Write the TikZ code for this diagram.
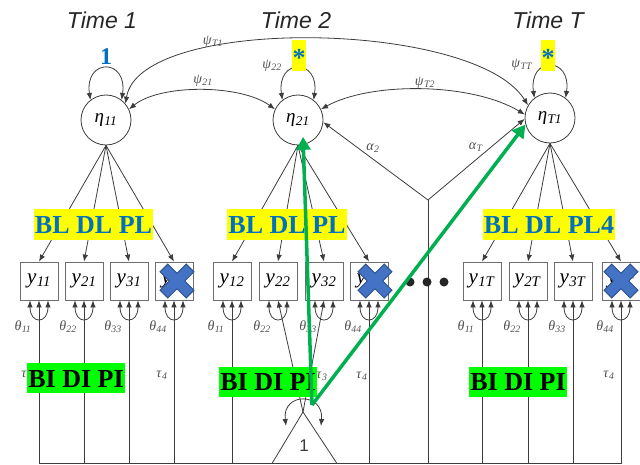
\documentclass[tikz,border=0pt]{standalone}
\usepackage{fontspec}
\setmainfont{Liberation Serif}
\newfontfamily\sansf{Liberation Sans}
\usetikzlibrary{arrows.meta,calc}
\definecolor{ln}{HTML}{3C3C3C}
\definecolor{boxln}{HTML}{6E6E6E}
\definecolor{hlblue}{HTML}{0070C0}
\definecolor{hlyellow}{HTML}{FFFF00}
\definecolor{hlgreen}{HTML}{00FF00}
\definecolor{arrgreen}{HTML}{00B050}
\definecolor{xfill}{HTML}{4472C4}
\definecolor{xedge}{HTML}{2F528F}
% italic symbol with an italic subscript
\newcommand\symsub[2]{\textit{#1}\kern0.3pt\textsubscript{\textit{#2}}}
\begin{document}
\begin{tikzpicture}[x=1pt,y=-1pt,line width=0.8pt,
  >={Latex[length=7pt,width=5.5pt]},
  latent/.style={circle,draw=ln,minimum size=50pt,inner sep=0pt,
    font=\fontsize{19}{19}\selectfont},
  manifest/.style={rectangle,draw=boxln,minimum size=38pt,inner sep=0pt,
    font=\fontsize{21}{21}\selectfont},
  timetitle/.style={font=\sansf\itshape\fontsize{23}{23}\selectfont,text=black!85},
  parlabel/.style={font=\fontsize{14}{14}\selectfont,text=ln!90,inner sep=0pt},
  loadtag/.style={fill=hlyellow,text=hlblue,font=\bfseries\fontsize{26}{26}\selectfont,
    inner xsep=1pt,inner ysep=0.5pt,text height=24pt,text depth=6pt},
  intag/.style={fill=hlgreen,text=black,font=\bfseries\fontsize{26}{26}\selectfont,
    inner xsep=1pt,inner ysep=0pt,text height=24pt,text depth=6pt},
  starbox/.style={fill=hlyellow,minimum width=14pt,minimum height=31pt,inner sep=0pt},
  startext/.style={text=hlblue,font=\bfseries\fontsize{26}{26}\selectfont,inner sep=0pt},
  garrow/.style={draw=arrgreen,line width=3.5pt,-{Triangle[length=13pt,width=14pt]}},
  path/.style={draw=ln,->},
  cov/.style={draw=ln,<->},
]
\useasboundingbox (0,0) rectangle (640,465);

% occasion headings
\node[timetitle] at (102,20) {Time 1};
\node[timetitle] at (296,20) {Time 2};
\node[timetitle] at (548,20) {Time T};

% latent factors
\node[latent] (e11) at (106,120) {\symsub{η}{11}};
\node[latent] (e21) at (298,120) {\symsub{η}{21}};
\node[latent] (eT1) at (550,118) {\symsub{η}{T1}};

% factor covariances
\draw[cov] (e11.40) .. controls (140,15) and (475,20) .. (eT1.150);
\draw[cov] (e11.25) .. controls (160,84) and (240,84) .. (e21.155);
\draw[cov] (e21.25) .. controls (370,82) and (470,82) .. (eT1.172);
\node[parlabel] at (213,42) {\symsub{ψ}{T1}};
\node[parlabel] at (203,81) {\symsub{ψ}{21}};
\node[parlabel] at (425,83) {\symsub{ψ}{T2}};

% factor variances
\foreach \e in {e11,e21,eT1}
  \draw[cov] (\e.128) .. controls +(-6,-42) and +(6,-42) .. (\e.52);
\node[parlabel] at (272,66) {\symsub{ψ}{22}};
\node[parlabel] at (522,65) {\symsub{ψ}{TT}};
\node[text=hlblue,font=\bfseries\fontsize{24}{24}\selectfont,inner sep=0pt] at (106,57) {1};
\node[starbox] (s2) at (299,55.5) {};
\node[startext] at ($(s2.center)+(0,2)$) {*};
\node[starbox] (sT) at (548,55.5) {};
\node[startext] at ($(sT.center)+(0,2)$) {*};

% indicators
\foreach \n/\x/\lab in {y11/39/11,y21/84/21,y31/129/31,y41/174/41,
                        y12/232/12,y22/278/22,y32/324/32,y42/369/42,
                        y1T/482/1T,y2T/528/2T,y3T/573/3T,y4T/621/4T}
  \node[manifest] (\n) at (\x,281) {\symsub{y}{\lab}};

% factor loadings
\foreach \b in {y11,y21,y31,y41} \draw[path] (e11.south) -- (\b.north);
\foreach \b in {y12,y22,y32,y42} \draw[path] (e21.south) -- (\b.north);
\foreach \b in {y1T,y2T,y3T,y4T} \draw[path] (eT1.south) -- (\b.north);

% unique variances
\foreach \b/\lab in {y11/11,y21/22,y31/33,y41/44,y12/11,y22/22,y32/33,y42/44,
                     y1T/11,y2T/22,y3T/33,y4T/44}{
  \draw[cov] ($(\b.south)+(-9,0)$) .. controls +(0,24) and +(0,24) .. ($(\b.south)+(9,0)$);
  \node[parlabel] at ($(\b.south)+(-16,26)$) {\symsub{θ}{\lab}};
}

% mean structure
\coordinate (base) at (0,463.5);
\coordinate (apex) at (303,412);
\coordinate (fork) at (428,200);
\draw[ln] (y11.south |- base) -- (y4T.south |- base);
\draw[ln,fill=white] (apex) -- (272,463.5) -- (337,463.5) -- cycle;
\node[font=\sansf\fontsize{17}{17}\selectfont,text=ln] at (304,446) {1};
\draw[cov] (286,426) .. controls (282,392) and (324,392) .. (321,426);
\foreach \b in {y11,y21,y31,y41,y12,y42,y1T,y2T,y3T,y4T}
  \draw[path] (\b.south |- base) -- (\b.south);
\draw[path] (apex) -- (y22.south);
\draw[path] (apex) -- (y32.south);
\draw[ln] (fork |- base) -- (fork);
\draw[path] (fork) -- (e21.-5);
\draw[path] (fork) -- (eT1.182);
\node[parlabel] at (373,148) {\symsub{α}{2}};
\node[parlabel] at (476,147) {\symsub{α}{T}};

% intercepts
\foreach \b/\lab in {y11/1,y41/4,y3T/3,y4T/4}
  \node[parlabel] at ($(\b.south)+(-12,75)$) {\symsub{τ}{\lab}};
\node[parlabel] at (322,376) {\symsub{τ}{3}};
\node[parlabel] at (362,376) {\symsub{τ}{4}};

% continuation dots
\foreach \x in {410,427,444} \fill[black!85] (\x,282) circle[radius=4.5pt];

% annotations
\node[loadtag] at (93.5,224.5) {BL DL PL};
\node[loadtag] at (287,224.5) {BL DL PL};
\node[loadtag] at (549,224.5) {BL DL PL4};
\node[intag] at (76,378) {BI DI PI};
\node[intag] at (268,381.5) {BI DI PI};
\node[intag] at (518,381.5) {BI DI PI};

% dropped fourth indicators
\foreach \px/\py in {177/281,375/281,621/281}{
  \begin{scope}[shift={(\px,\py)},rotate=45]
    \filldraw[fill=xfill,draw=xedge,line width=1pt]
      (5.5,18.5)--(5.5,5.5)--(18.5,5.5)--(18.5,-5.5)--(5.5,-5.5)--(5.5,-18.5)
      --(-5.5,-18.5)--(-5.5,-5.5)--(-18.5,-5.5)--(-18.5,5.5)--(-5.5,5.5)
      --(-5.5,18.5)--cycle;
  \end{scope}
}

% highlighted paths
\coordinate (g) at (312,405);
\draw[garrow,shorten >=-8pt] (g) -- (e21.-78);
\draw[garrow] (g) -- (eT1.195);
\end{tikzpicture}
\end{document}
